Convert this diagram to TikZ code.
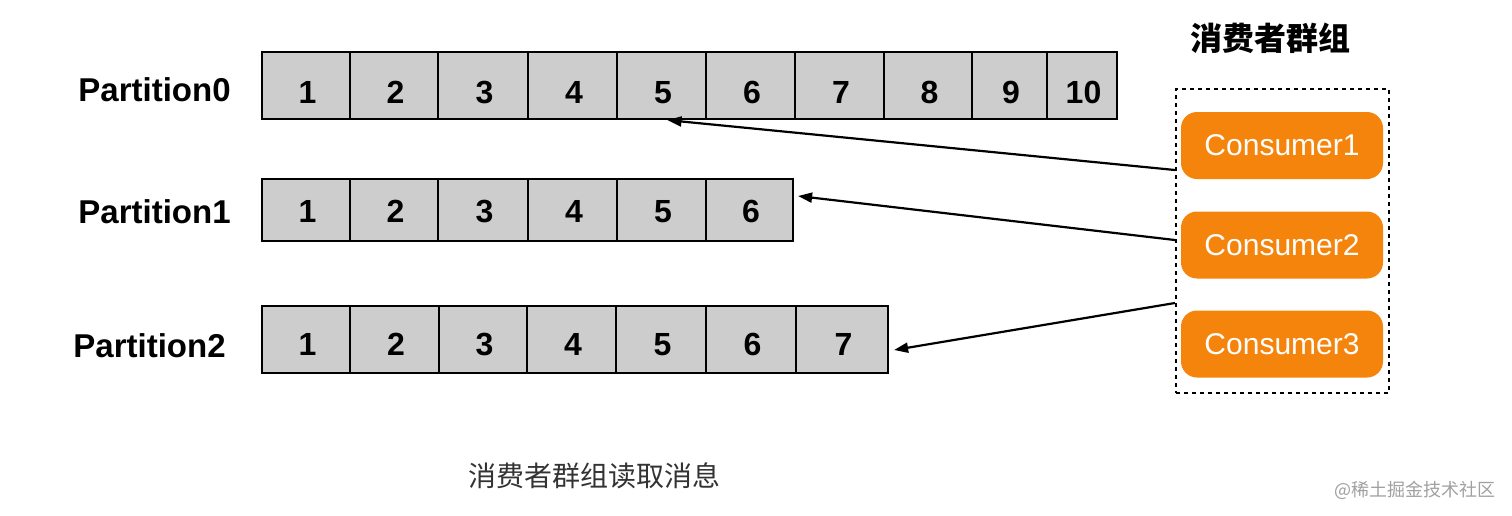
\documentclass[tikz,border=0pt]{standalone}
\usepackage{fontspec}
\setmainfont{Liberation Sans}
\newfontfamily\cjk{Noto Sans CJK SC}
\usetikzlibrary{arrows.meta}
\definecolor{cellgray}{HTML}{CDCDCD}
\definecolor{consorange}{HTML}{F5840C}
\definecolor{captiongray}{HTML}{333333}
\definecolor{markgray}{HTML}{A0A0A0}
\tikzset{
  cell/.style={draw=black, fill=cellgray, line width=2.2pt, inner sep=0pt,
    text height=23pt, text depth=0pt,
    font=\fontsize{32}{36}\selectfont\bfseries},
  plabel/.style={inner sep=0pt, font=\fontsize{33}{38}\selectfont\bfseries},
  consumer/.style={fill=consorange, rounded corners=16pt, minimum width=202pt,
    minimum height=67pt, text=white, inner sep=0pt, font=\fontsize{30}{34}\selectfont},
  groupbox/.style={draw=black, dash pattern=on 4pt off 4pt, line width=2.2pt,
    minimum width=213pt, minimum height=304pt, inner sep=0pt},
  link/.style={line width=2.2pt, -{Triangle[length=14pt,width=10pt]}}
}
\begin{document}
\begin{tikzpicture}[x=1pt,y=-1pt]
\useasboundingbox (0,0) rectangle (1512,515);
% Partition 0
\foreach \a/\b [count=\i] in {262/350,350/438,438/528,528/617,617/706,706/795,795/884,884/972,972/1047,1047/1117}
  \node[cell, minimum width={(\b-\a)*1pt}, minimum height=67pt] (r0c\i) at ({(\a+\b)/2},85.5) {\hspace{3pt}\raisebox{-6pt}{\i}};
% Partition 1
\foreach \a/\b [count=\i] in {262/350,350/438,438/528,528/617,617/706,706/793}
  \node[cell, minimum width={(\b-\a)*1pt}, minimum height=62pt] (r1c\i) at ({(\a+\b)/2},210) {\hspace{3pt}\raisebox{-1pt}{\i}};
% Partition 2
\foreach \a/\b [count=\i] in {262/350,350/439,439/527,527/616,616/706,706/796,796/888}
  \node[cell, minimum width={(\b-\a)*1pt}, minimum height=67pt] (r2c\i) at ({(\a+\b)/2},339.5) {\hspace{3pt}\raisebox{-4pt}{\i}};
% labels
\node[plabel] (p0) at (154.5,90) {Partition0};
\node[plabel] (p1) at (154.5,212) {Partition1};
\node[plabel] (p2) at (149.5,346) {Partition2};
% consumer group
\node[inner sep=0pt, font=\cjk\bfseries\fontsize{32}{36}\selectfont] (title) at (1270,38) {消费者群组};
\node[groupbox] (group) at (1282.5,241) {};
\node[consumer] (cons1) at (1282,145.5) {Consumer1};
\node[consumer] (cons2) at (1282,245) {Consumer2};
\node[consumer] (cons3) at (1282,344) {Consumer3};
% arrows
\coordinate (s1) at (group.west |- 0,170);
\coordinate (s2) at (group.west |- 0,240);
\coordinate (s3) at (group.west |- 0,303);
\draw[link] (s1) -- ([xshift=6pt]r0c5.south);
\draw[link] (s2) -- ([xshift=4pt,yshift=14pt]r1c6.east);
\draw[link] (s3) -- ([xshift=5pt,yshift=-10.5pt]r2c7.east);
% captions
\node[inner sep=0pt, text=captiongray, font=\cjk\fontsize{28}{32}\selectfont] (caption) at (594,476) {消费者群组读取消息};
\node[inner sep=0pt, text=markgray, font=\cjk\fontsize{18}{22}\selectfont] (mark) at (1415,490) {@稀土掘金技术社区};
\end{tikzpicture}
\end{document}
